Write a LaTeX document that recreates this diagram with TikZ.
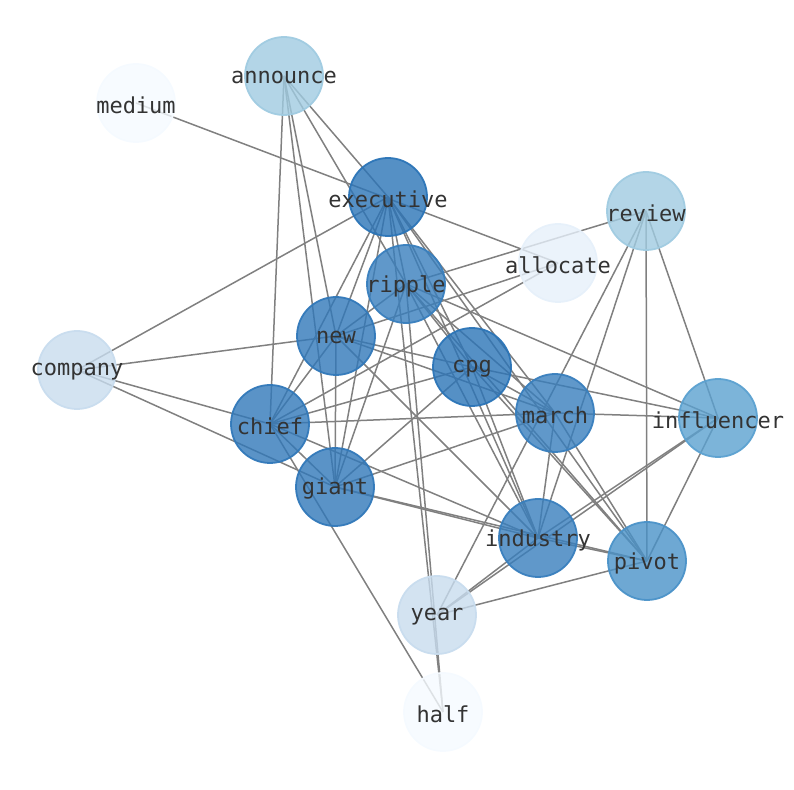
\documentclass[tikz,border=0pt]{standalone}
\usepackage{fontspec}
\setmonofont{DejaVu Sans Mono}
\usepackage{tikz}
\pgfdeclarelayer{background}
\pgfsetlayers{background,main}

\definecolor{blueA}{RGB}{43,116,183}
\definecolor{blueB}{RGB}{49,120,185}
\definecolor{blueC}{RGB}{56,126,189}
\definecolor{blueD}{RGB}{74,146,200}
\definecolor{blueE}{RGB}{91,161,208}
\definecolor{blueF}{RGB}{160,203,225}
\definecolor{blueG}{RGB}{200,220,238}
\definecolor{blueH}{RGB}{230,240,250}
\definecolor{blueI}{RGB}{245,250,255}

\begin{document}
\begin{tikzpicture}[x=0.5pt,y=-0.5pt,
  word/.style={circle,minimum size=39pt,inner sep=0pt,fill=#1,draw=#1,
    fill opacity=0.8,draw opacity=0.95,line width=0.9pt},
  wordtext/.style={inner sep=0pt,yshift=-1pt,text=black!80,text opacity=1,
    font=\ttfamily\fontsize{11}{13}\selectfont},
  link/.style={draw=black!50,line width=0.75pt}]
  \useasboundingbox (0,0) rectangle (794,790);

  \node[word=blueF,label={[wordtext]center:announce}]   (announce)   at (284,76)  {};
  \node[word=blueI,label={[wordtext]center:medium}]     (medium)     at (136,103) {};
  \node[word=blueA,label={[wordtext]center:executive}]  (executive)  at (388,197) {};
  \node[word=blueF,label={[wordtext]center:review}]     (review)     at (646,211) {};
  \node[word=blueH,label={[wordtext]center:allocate}]   (allocate)   at (558,263) {};
  \node[word=blueC,label={[wordtext]center:ripple}]     (ripple)     at (406,284) {};
  \node[word=blueB,label={[wordtext]center:new}]        (new)        at (336,336) {};
  \node[word=blueG,label={[wordtext]center:company}]    (company)    at (77,370)  {};
  \node[word=blueA,label={[wordtext]center:cpg}]        (cpg)        at (472,367) {};
  \node[word=blueC,label={[wordtext]center:march}]      (march)      at (555,413) {};
  \node[word=blueE,label={[wordtext]center:influencer}] (influencer) at (718,418) {};
  \node[word=blueB,label={[wordtext]center:chief}]      (chief)      at (270,424) {};
  \node[word=blueB,label={[wordtext]center:giant}]      (giant)      at (335,487) {};
  \node[word=blueC,label={[wordtext]center:industry}]   (industry)   at (538,538) {};
  \node[word=blueD,label={[wordtext]center:pivot}]      (pivot)      at (647,561) {};
  \node[word=blueG,label={[wordtext]center:year}]       (year)       at (437,615) {};
  \node[word=blueI,label={[wordtext]center:half}]       (half)       at (443,712) {};

  % edges behind the words
  \begin{pgfonlayer}{background}
    \foreach \a/\b in {announce/executive,announce/ripple,announce/new,announce/chief,announce/giant,
      medium/allocate,company/executive,company/new,company/chief,company/giant,
      executive/chief,executive/new,executive/giant,executive/ripple,executive/cpg,
      executive/march,executive/industry,executive/pivot,executive/half,
      review/ripple,review/year,review/industry,review/pivot,review/influencer,
      allocate/new,allocate/chief,
      ripple/new,ripple/giant,ripple/cpg,ripple/march,ripple/industry,ripple/pivot,
      ripple/influencer,ripple/half,
      new/cpg,new/march,new/giant,new/chief,new/industry,
      cpg/chief,cpg/giant,cpg/march,cpg/influencer,cpg/industry,cpg/pivot,
      march/chief,march/giant,march/industry,march/pivot,march/influencer,
      chief/giant,chief/industry,chief/half,giant/industry,giant/pivot,
      industry/pivot,industry/influencer,pivot/influencer,pivot/year,
      year/industry,year/influencer}
      \draw[link] (\a.center) -- (\b.center);
  \end{pgfonlayer}
\end{tikzpicture}
\end{document}
